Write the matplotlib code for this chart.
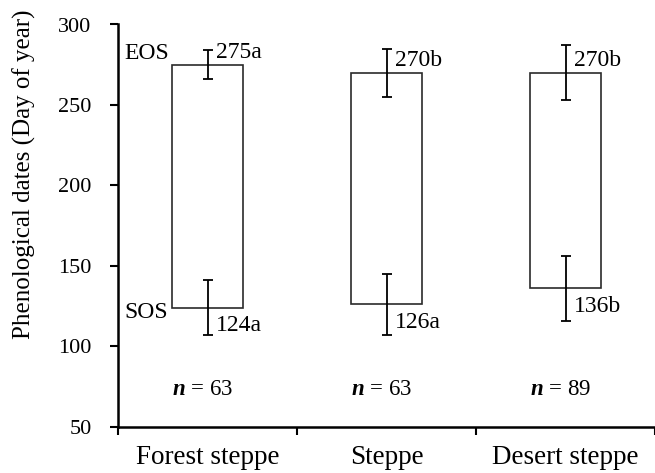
import matplotlib
matplotlib.use("Agg")
import matplotlib.pyplot as plt
import numpy as np

categories = ["Forest steppe", "Steppe", "Desert steppe"]
sos = [124, 126, 136]
eos = [275, 270, 270]
sos_err = [17, 19, 20]
eos_err = [9, 15, 17]
sos_labels = ["124a", "126a", "136b"]
eos_labels = ["275a", "270b", "270b"]
n_labels = ["63", "63", "89"]
yticks = [50, 100, 150, 200, 250, 300]

plt.rcParams['font.family'] = ['Liberation Serif', 'DejaVu Serif']
plt.rcParams['mathtext.fontset'] = 'custom'
plt.rcParams['mathtext.rm'] = 'Liberation Serif'
plt.rcParams['mathtext.bfit'] = 'Liberation Serif:bold:italic'

fig = plt.figure(figsize=(6.55, 4.73), dpi=100)
ax = fig.add_axes([118/655, 1-426.7/473, 1-118/655, (426.7-24.5)/473])

x = np.arange(len(categories))
ax.bar(x, np.array(eos) - np.array(sos), bottom=sos, width=0.4,
       facecolor='white', edgecolor='#2a2a2a', linewidth=1.2, zorder=2)
ax.errorbar(x, eos, yerr=eos_err, fmt='none', ecolor='black',
            elinewidth=1.3, capsize=3.5, capthick=1.3, zorder=3)
ax.errorbar(x, sos, yerr=sos_err, fmt='none', ecolor='black',
            elinewidth=1.3, capsize=3.5, capthick=1.3, zorder=3)

fs = 17
for i in range(len(categories)):
    ax.annotate(eos_labels[i], (x[i], eos[i]), xytext=(6, 5),
                textcoords='offset points', ha='left', va='baseline', fontsize=fs)
    ax.annotate(sos_labels[i], (x[i], sos[i]), xytext=(6, -5.5),
                textcoords='offset points', ha='left', va='top', fontsize=fs)
    ax.text(x[i] - 0.03, 73, r"$\mathbfit{n}$ = " + n_labels[i],
            ha='center', va='center', fontsize=16.5)

ax.text(-0.467, 282, "EOS", ha='left', va='center', fontsize=fs)
ax.text(-0.467, 121, "SOS", ha='left', va='center', fontsize=fs)

ax.set_xlim(-0.5, 2.5)
ax.set_ylim(50, 300)
ax.set_yticks(yticks)
ax.set_yticklabels([str(v) for v in yticks], fontsize=16)
ax.set_xticks([-0.5, 0.5, 1.5, 2.5])
ax.set_xticklabels([])
ax.set_xticks(x, minor=True)
ax.set_xticklabels(categories, minor=True, fontsize=19.5)
ax.tick_params(axis='x', which='minor', length=0, pad=13)
ax.tick_params(axis='both', which='major', length=6, width=1.5, direction='out', color='black')
ax.tick_params(axis='y', pad=13)
for s in ['top', 'right']:
    ax.spines[s].set_visible(False)
for s in ['left', 'bottom']:
    ax.spines[s].set_linewidth(1.8)
    ax.spines[s].set_color('black')

fig.text(24/655, 1-174/473, "Phenological dates (Day of year)", rotation=90,
         ha='center', va='center', fontsize=18)

fig.savefig("out.png", dpi=100)
